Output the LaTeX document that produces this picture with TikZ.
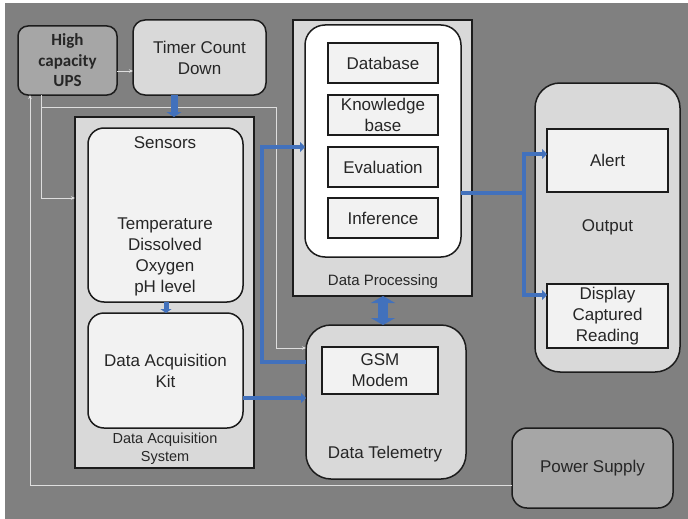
\documentclass[tikz,border=0pt]{standalone}
\usepackage{fontspec}
\setmainfont{Liberation Sans}
\newfontfamily\upsfont{Carlito}
\usetikzlibrary{arrows.meta}

\definecolor{bgGrey}{RGB}{128,128,128}
\definecolor{boxGrey}{RGB}{217,217,217}
\definecolor{paleGrey}{RGB}{242,242,242}
\definecolor{darkGrey}{RGB}{166,166,166}
\definecolor{lineWhite}{RGB}{222,222,222}
\definecolor{flowBlue}{RGB}{66,113,188}
\definecolor{edgeBlack}{RGB}{28,28,28}

\begin{document}
\begin{tikzpicture}[x=1pt,y=1pt,yscale=-1,
  txt/.style={font=\fontsize{17}{21}\selectfont, text=black!85, align=center, inner sep=0pt},
  small/.style={txt, font=\fontsize{14.5}{18}\selectfont},
  frame/.style={draw=edgeBlack, line width=1.5pt, fill=boxGrey, anchor=north west, inner sep=0pt, outer sep=0pt},
  roundframe/.style={frame, rounded corners=#1},
  card/.style={frame, fill=paleGrey, txt},
  pline/.style={draw=lineWhite, line width=0.9pt, -{Stealth[length=4pt,width=3.5pt]}},
  bline/.style={draw=flowBlue, line width=4.5pt, -{Triangle[length=5pt,width=10pt]}}
]
\useasboundingbox (0,0) rectangle (688,519);
\fill[white] (0,0) rectangle (688,519);
%Background
\fill[bgGrey] (5,3) rectangle (688,519);

%Rounded Rect: UPS
\node[roundframe=10pt, fill=darkGrey, txt, font=\upsfont\bfseries\fontsize{17}{20.5}\selectfont, minimum width=99pt, minimum height=69pt] (ups) at (18,26) {High\\capacity\\UPS};
%Rounded Rect: timer
\node[roundframe=12pt, txt, minimum width=133pt, minimum height=75pt] (timer) at (133,20) {Timer Count\\Down};

%Shape: Rectangle (acquisition system)
\node[frame, minimum width=179pt, minimum height=351pt] (das) at (75,117) {};
\node[roundframe=16pt, fill=paleGrey, minimum width=155pt, minimum height=174pt] (sens) at (88,128) {};
\node[roundframe=16pt, fill=paleGrey, txt, minimum width=155pt, minimum height=115pt] (dak) at (88,313) {Data Acquisition\\Kit};

% Text Node
\node[txt] (sensT) at (165,143) {Sensors};
% Text Node
\node[txt] (sensList) at (165,257) {Temperature\\Dissolved\\Oxygen\\pH level};
% Text Node
\node[small] (dasT) at (165,449) {Data Acquisition\\System};

%Shape: Rectangle (processing)
\node[frame, minimum width=179pt, minimum height=276pt] (dp) at (293,20) {};
\node[roundframe=20pt, fill=white, minimum width=156pt, minimum height=232pt] (inner) at (305,25) {};
\node[card, minimum width=110pt, minimum height=40pt] (db) at (328,43) {Database};
\node[card, minimum width=110pt, minimum height=40pt] (kb) at (328,95) {Knowledge\\base};
\node[card, minimum width=110pt, minimum height=40pt] (ev) at (328,147) {Evaluation};
\node[card, minimum width=110pt, minimum height=40pt] (inf) at (328,198) {Inference};
% Text Node
\node[small, font=\fontsize{15}{18}\selectfont] (dpT) at (383,282) {Data Processing};

%Rounded Rect: telemetry
\node[roundframe=25pt, minimum width=160pt, minimum height=154pt] (dt) at (306,325) {};
\node[card, minimum width=116pt, minimum height=47pt] (gsm) at (322,347) {GSM\\Modem};
% Text Node
\node[txt] (dtT) at (385,454) {Data Telemetry};

%Rounded Rect: output
\node[roundframe=25pt, txt, minimum width=145pt, minimum height=289pt] (out) at (535,83) {Output};
\node[card, minimum width=121pt, minimum height=63pt] (alert) at (547,129) {Alert};
\node[card, minimum width=121pt, minimum height=64pt] (disp) at (547,284) {Display\\Captured\\Reading};

%Rounded Rect: power
\node[roundframe=15pt, fill=darkGrey, txt, minimum width=161pt, minimum height=80pt] (psu) at (512,428) {Power Supply};

%Straight Lines: power feed
\draw[pline] (ups.east |- 0,71) -- (timer.west |- 0,71);
\draw[pline] (ups.south -| 41,0) |- (das.west |- 0,198);
\draw[pline] (ups.south -| 41,0) |- (276,107) |- (dt.west |- 0,348);
\draw[pline] (psu.west |- 0,485) -| (ups.south -| 30,0);

%Straight Lines: data flow
\draw[bline, line width=7pt, -{Triangle[length=5pt,width=15pt]}] (timer.south -| 174,0) -- (das.north -| 174,0);
\draw[bline, line width=5pt, -{Triangle[length=4pt,width=11pt]}] (sens.south -| 166,0) -- (dak.north -| 166,0);
\draw[bline] (dak.east |- 0,398) -- (dt.west |- 0,398);
\draw[bline] (dt.west |- 0,362) -| (262,147) -- (inner.west |- 0,147);
\draw[bline, line width=10pt, {Triangle[length=7pt,width=24pt]}-{Triangle[length=7pt,width=24pt]}] (dp.south -| 383,0) -- (dt.north -| 383,0);
\coordinate (split) at (524,193);
\draw[bline, line width=4pt, -] (inner.east |- split) -- (split);
\draw[bline, line width=4pt] (split) |- (alert.west |- 0,154);
\draw[bline, line width=4pt] (split) |- (disp.west |- 0,295);
\end{tikzpicture}
\end{document}
